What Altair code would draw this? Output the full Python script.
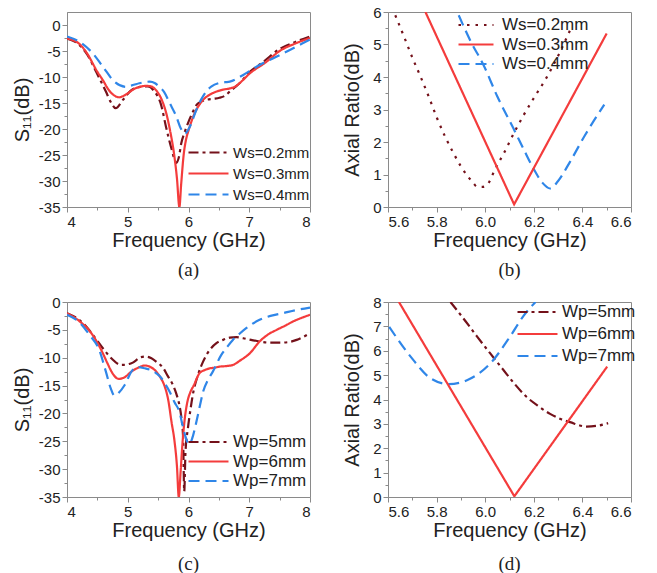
import altair as alt
import pandas as pd

# ---------------- data ----------------
# (a) S11 for Ws
a_labels = ["Ws=0.2mm", "Ws=0.3mm", "Ws=0.4mm"]
a_f_02 = [4.0, 4.2, 4.34, 4.48, 4.64, 4.72, 4.8, 4.92, 5.05, 5.2, 5.33, 5.44, 5.55, 5.63, 5.72, 5.8, 5.84, 5.88, 5.94, 5.99, 6.06, 6.13, 6.2, 6.29, 6.4, 6.51, 6.6, 6.68, 6.76, 6.84, 7.01, 7.23, 7.5, 7.75, 8.0]
a_s_02 = [-2.6, -3.8, -5.8, -9.0, -12.8, -14.8, -16.0, -14.4, -12.6, -11.9, -11.8, -12.8, -15.4, -19.6, -23.8, -26.5, -25.5, -22.8, -20.5, -18.9, -17.0, -15.4, -14.8, -14.4, -14.2, -14.0, -13.6, -12.8, -12.0, -11.2, -9.0, -7.1, -4.6, -3.3, -2.2]
a_f_03 = [4.0, 4.2, 4.31, 4.5, 4.6, 4.67, 4.76, 4.86, 4.95, 5.03, 5.12, 5.2, 5.3, 5.38, 5.47, 5.56, 5.63, 5.7, 5.76, 5.81, 5.85, 5.88, 5.92, 5.96, 6.0, 6.05, 6.1, 6.17, 6.24, 6.35, 6.46, 6.58, 6.68, 6.76, 6.84, 7.01, 7.28, 7.5, 7.75, 8.0]
a_s_03 = [-2.6, -3.6, -5.1, -9.0, -10.8, -12.2, -13.4, -13.9, -13.5, -12.9, -12.2, -11.9, -11.7, -11.8, -12.6, -14.4, -16.8, -20.5, -24.6, -29.5, -35.0, -30.5, -25.0, -22.0, -20.3, -18.5, -17.0, -15.5, -14.4, -13.4, -12.8, -12.4, -12.2, -11.9, -11.2, -9.3, -7.1, -5.0, -3.6, -2.5]
a_f_04 = [4.0, 4.2, 4.42, 4.59, 4.78, 4.97, 5.1, 5.19, 5.36, 5.45, 5.52, 5.6, 5.69, 5.8, 5.87, 5.94, 6.02, 6.13, 6.21, 6.29, 6.38, 6.49, 6.6, 6.68, 6.9, 7.17, 7.5, 7.75, 8.0]
a_s_04 = [-2.2, -3.2, -5.4, -8.0, -10.9, -11.9, -11.5, -11.2, -10.9, -11.2, -11.9, -12.9, -15.0, -17.6, -19.8, -20.9, -19.6, -16.3, -14.3, -12.8, -11.8, -11.2, -11.0, -10.9, -9.6, -7.7, -5.8, -4.3, -2.8]

# (b) Axial ratio for Ws
b_labels = ["Ws=0.2mm", "Ws=0.3mm", "Ws=0.4mm"]
b_f_02 = [5.63, 5.666, 5.70, 5.734, 5.77, 5.802, 5.836, 5.87, 5.90, 5.925, 5.95, 5.966, 5.99, 6.01, 6.04, 6.08, 6.12, 6.16, 6.2, 6.25, 6.3, 6.35]
b_s_02 = [5.9, 5.24, 4.6, 4.01, 3.35, 2.73, 2.15, 1.65, 1.25, 0.98, 0.75, 0.63, 0.62, 0.70, 1.15, 1.7, 2.3, 2.85, 3.35, 3.95, 4.65, 5.45]
b_f_03 = [5.754, 6.119, 6.5]
b_s_03 = [6.0, 0.08, 5.34]
b_f_04 = [5.891, 5.94, 5.993, 6.05, 6.116, 6.16, 6.198, 6.235, 6.267, 6.3, 6.349, 6.41, 6.49]
b_s_04 = [5.9, 5.1, 4.37, 3.4, 2.42, 1.75, 1.19, 0.75, 0.57, 0.8, 1.39, 2.2, 3.15]

# (c) S11 for Wp
c_labels = ["Wp=5mm", "Wp=6mm", "Wp=7mm"]
c_f_5 = [4.0, 4.2, 4.34, 4.46, 4.59, 4.73, 4.89, 5.06, 5.22, 5.3, 5.39, 5.48, 5.58, 5.66, 5.74, 5.8, 5.85, 5.88, 5.91, 5.93, 5.95, 5.99, 6.03, 6.07, 6.15, 6.24, 6.35, 6.46, 6.57, 6.68, 6.79, 6.9, 7.03, 7.17, 7.33, 7.5, 7.65, 7.78, 7.9, 8.0]
c_s_5 = [-2.0, -3.2, -4.7, -6.4, -8.3, -10.1, -11.3, -11.0, -9.9, -9.8, -10.1, -10.8, -11.8, -13.3, -14.8, -16.5, -18.5, -20.5, -24.0, -34.0, -27.0, -22.7, -19.5, -16.7, -13.3, -10.7, -8.6, -7.4, -6.8, -6.4, -6.3, -6.5, -6.8, -7.1, -7.3, -7.3, -7.2, -6.8, -6.2, -5.6]
c_f_6 = [4.0, 4.2, 4.4, 4.5, 4.59, 4.67, 4.75, 4.85, 4.95, 5.06, 5.17, 5.28, 5.38, 5.47, 5.54, 5.6, 5.67, 5.72, 5.77, 5.81, 5.84, 5.87, 5.9, 5.94, 5.98, 6.03, 6.09, 6.18, 6.27, 6.35, 6.43, 6.51, 6.62, 6.73, 6.85, 7.01, 7.17, 7.3, 7.45, 7.6, 7.72, 7.85, 8.0]
c_s_6 = [-2.0, -3.4, -5.6, -7.3, -9.2, -11.1, -12.8, -13.8, -13.5, -12.5, -11.8, -11.4, -11.7, -12.5, -13.6, -14.9, -17.8, -21.5, -25.0, -29.5, -35.0, -30.5, -25.5, -20.8, -18.0, -16.2, -14.9, -12.8, -12.2, -11.9, -11.8, -11.6, -11.5, -11.3, -10.5, -9.2, -7.1, -5.9, -5.0, -4.2, -3.5, -2.9, -2.3]
c_f_7 = [4.0, 4.2, 4.37, 4.53, 4.64, 4.72, 4.78, 4.86, 4.95, 5.08, 5.18, 5.28, 5.38, 5.47, 5.55, 5.61, 5.69, 5.77, 5.85, 5.91, 5.96, 6.01, 6.06, 6.13, 6.19, 6.24, 6.32, 6.4, 6.54, 6.64, 6.73, 6.84, 6.95, 7.17, 7.35, 7.56, 7.75, 8.0]
c_s_7 = [-2.3, -3.6, -5.9, -8.6, -12.5, -15.5, -16.8, -16.2, -14.9, -12.2, -11.7, -11.9, -12.2, -12.8, -13.6, -14.6, -16.1, -18.0, -19.7, -22.5, -24.5, -25.5, -24.5, -21.5, -18.5, -16.1, -14.0, -12.5, -9.5, -8.0, -6.8, -5.7, -4.7, -3.2, -2.5, -2.0, -1.5, -1.0]

# (d) Axial ratio for Wp
d_labels = ["Wp=5mm", "Wp=6mm", "Wp=7mm"]
d_f_5 = [5.857, 5.92, 5.966, 6.02, 6.075, 6.12, 6.171, 6.22, 6.267, 6.31, 6.349, 6.417, 6.46, 6.506]
d_s_5 = [8.0, 7.2, 6.59, 5.9, 5.21, 4.65, 4.1, 3.72, 3.41, 3.2, 3.07, 2.89, 2.92, 3.03]
d_f_6 = [5.645, 6.12, 6.502]
d_s_6 = [8.0, 0.03, 5.35]
d_f_7 = [5.605, 5.693, 5.775, 5.85, 5.925, 6.021, 6.103, 6.157, 6.207]
d_s_7 = [6.98, 5.76, 4.87, 4.63, 4.79, 5.48, 6.59, 7.42, 8.0]

# axis tick positions
x_ticks_s11 = [4.0, 4.5, 5.0, 5.5, 6.0, 6.5, 7.0, 7.5, 8.0]
y_ticks_s11 = [-35.0, -32.5, -30.0, -27.5, -25.0, -22.5, -20.0, -17.5, -15.0, -12.5, -10.0, -7.5, -5.0, -2.5, 0.0]
x_ticks_ar = [5.6, 5.7, 5.8, 5.9, 6.0, 6.1, 6.2, 6.3, 6.4, 6.5, 6.6]
y_ticks_ar6 = [0.0, 0.5, 1.0, 1.5, 2.0, 2.5, 3.0, 3.5, 4.0, 4.5, 5.0, 5.5, 6.0]
y_ticks_ar8 = [0.0, 0.5, 1.0, 1.5, 2.0, 2.5, 3.0, 3.5, 4.0, 4.5, 5.0, 5.5, 6.0, 6.5, 7.0, 7.5, 8.0]

COLORS = ["#74111a", "#f43c3c", "#2f86e8"]
SANS = "Liberation Sans"
SERIF = "Liberation Serif"
TXT = "#222222"
FRAME = "#8a8a8a"


def make_df(labels, fs, vs):
    rows = []
    for lab, f, v in zip(labels, fs, vs):
        for x, y in zip(f, v):
            rows.append({"f": x, "v": y, "s": lab})
    return pd.DataFrame(rows)


INT_LABEL = "datum.value % 1 === 0 ? toString(datum.value) : ''"
FIVE_LABEL = "datum.value % 5 === 0 ? toString(datum.value) : ''"
TENTH_LABEL = "round(datum.value * 10) % 2 === 0 ? format(datum.value, '.1f') : ''"


def tick_size(test):
    return {"condition": {"test": test, "value": 5}, "value": 3}


def panel(df, labels, dashes, xdom, ydom, xvals, yvals, xlab, ylab, ytitle,
          caption, lx, ly, lfont, ssize, loff, rowpad, clip, cap_off,
          linear=(), ytpad=6, width=243, height=195):
    leg = alt.Legend(orient="none", legendX=lx, legendY=ly, title=None,
                     symbolType="stroke", symbolSize=ssize, symbolStrokeWidth=2.2,
                     labelFont=SANS, labelFontSize=lfont, labelColor=TXT,
                     labelOffset=loff, rowPadding=rowpad, clipHeight=clip,
                     padding=0, labelLimit=200)
    color = alt.Color("s:N", scale=alt.Scale(domain=labels, range=COLORS), legend=leg)
    dash = alt.StrokeDash("s:N", scale=alt.Scale(domain=labels, range=dashes), legend=leg)
    x = alt.X("f:Q", scale=alt.Scale(domain=xdom, nice=False, zero=False),
              axis=alt.Axis(values=xvals, labelExpr=xlab, title="Frequency (GHz)",
                            tickSize=tick_size(xlab.split(" ?")[0]), labelPadding=2,
                            titlePadding=1, labelOverlap=False))
    y = alt.Y("v:Q", scale=alt.Scale(domain=ydom, nice=False, zero=False),
              axis=alt.Axis(values=yvals, labelExpr=ylab, title=ytitle,
                            tickSize=tick_size(ylab.split(" ?")[0]), labelPadding=2,
                            titlePadding=ytpad, labelOverlap=False))
    base = alt.Chart(df).encode(x=x, y=y, color=color, strokeDash=dash, order="f:Q")
    layers = []
    curved = [l for l in labels if l not in linear]
    if curved:
        layers.append(base.mark_line(interpolate="monotone", strokeWidth=2.2, clip=True)
                      .transform_filter(alt.FieldOneOfPredicate(field="s", oneOf=curved)))
    if linear:
        layers.append(base.mark_line(interpolate="linear", strokeWidth=2.2, clip=True)
                      .transform_filter(alt.FieldOneOfPredicate(field="s", oneOf=list(linear))))
    return alt.layer(*layers).properties(
        width=width, height=height,
        title=alt.TitleParams(text=caption, orient="bottom", font=SERIF, fontSize=19,
                              fontWeight="normal", color=TXT, offset=cap_off,
                              anchor="middle", frame="group"))


df_a = make_df(a_labels, [a_f_02, a_f_03, a_f_04], [a_s_02, a_s_03, a_s_04])
df_b = make_df(b_labels, [b_f_02, b_f_03, b_f_04], [b_s_02, b_s_03, b_s_04])
df_c = make_df(c_labels, [c_f_5, c_f_6, c_f_7], [c_s_5, c_s_6, c_s_7])
df_d = make_df(d_labels, [d_f_5, d_f_6, d_f_7], [d_s_5, d_s_6, d_s_7])

DASHDOT = [10, 4, 3, 4]
SOLID = [1, 0]
DASHED = [11, 6]
DOTTED = [2.5, 6]

pa = panel(df_a, a_labels, [DASHDOT, SOLID, DASHED], [4, 8], [-35, 2.5],
           x_ticks_s11, y_ticks_s11, INT_LABEL, FIVE_LABEL, "S₁₁(dB)", "(a)",
           120, 133, 15, 1600, 3, 5, 15, 11)
pb = panel(df_b, b_labels, [DOTTED, SOLID, DASHED], [5.6, 6.6], [0, 6],
           x_ticks_ar, y_ticks_ar6, TENTH_LABEL, INT_LABEL, "Axial Ratio(dB)", "(b)",
           69, 4.5, 17, 1225, 7, 1.5, 17, 11, linear=("Ws=0.3mm",), ytpad=10)
pc = panel(df_c, c_labels, [DASHDOT, SOLID, DASHED], [4, 8], [-35, 0],
           x_ticks_s11, y_ticks_s11, INT_LABEL, FIVE_LABEL,
           "S₁₁(dB)", "(c)", 120, 131.5, 17, 1600, 3, 1.5, 17, 15)
pd_ = panel(df_d, d_labels, [DASHDOT, SOLID, DASHED], [5.6, 6.6], [0, 8],
            x_ticks_ar, y_ticks_ar8, TENTH_LABEL, INT_LABEL, "Axial Ratio(dB)", "(d)",
            128, 1.5, 17, 1600, 3, 4, 17, 15, linear=("Wp=6mm",), ytpad=10)

chart = alt.concat(pa, pb, pc, pd_, columns=2,
                   spacing={"row": 95, "column": 78}, bounds="flush").resolve_scale(
    color="independent", strokeDash="independent"
).resolve_legend(
    color="independent", strokeDash="independent"
).properties(
    padding={"left": 11, "top": 4, "right": 0, "bottom": 0}
).configure_view(
    stroke=FRAME, strokeWidth=1
).configure_axis(
    labelFont=SANS, labelFontSize=15, labelColor=TXT,
    titleFont=SANS, titleFontSize=20, titleFontWeight="normal", titleColor=TXT,
    domainColor=FRAME, tickColor=FRAME, grid=False
)

chart.save("out.html", embed_options={"renderer": "svg", "actions": False})
